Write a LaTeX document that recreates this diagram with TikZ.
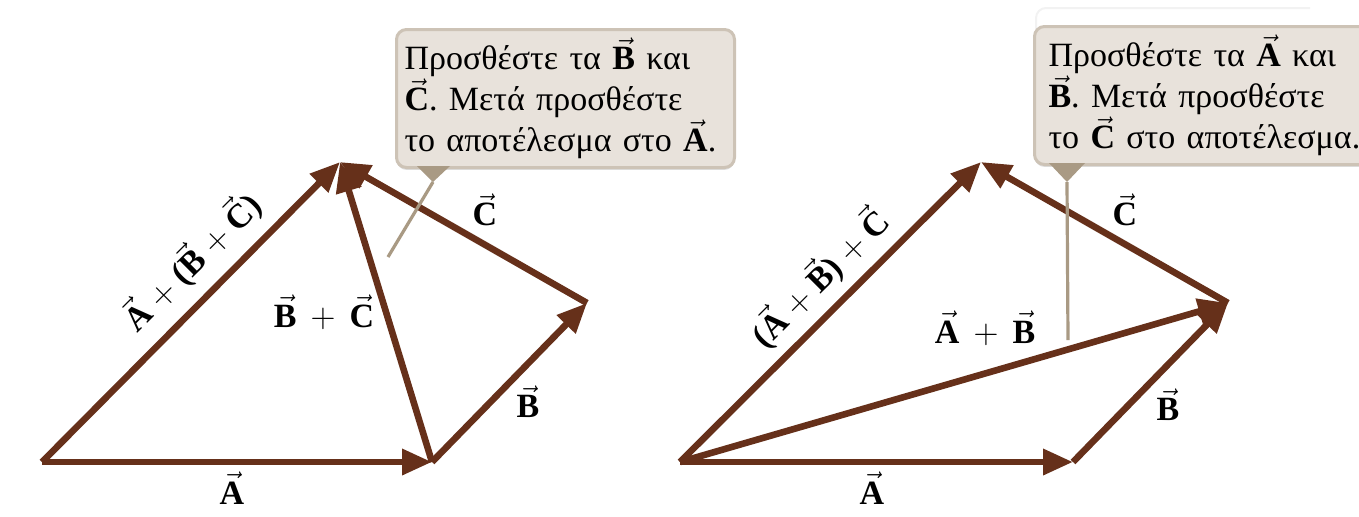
\documentclass[tikz,border=0pt]{standalone}
\usepackage{fontspec}
\setmainfont{Liberation Serif}
\usetikzlibrary{arrows.meta,shadows}
\frenchspacing

\definecolor{vecbrown}{HTML}{66301A}
\definecolor{notefill}{HTML}{E8E2DB}
\definecolor{noteedge}{HTML}{CDC3B6}
\definecolor{pointer}{HTML}{A99A84}

\newcommand{\vb}[1]{\ensuremath{\vec{\textbf{#1}}}}
\newcommand{\pl}{\ensuremath{+}}

\begin{document}
\begin{tikzpicture}[x=0.5pt,y=-0.5pt,
    vec/.style={draw=vecbrown, line width=3.3pt, -{Triangle[length=15pt,width=12.5pt]}},
    lbl/.style={font=\fontsize{17}{19}\selectfont\bfseries, inner sep=0pt},
    note/.style={draw=noteedge, fill=notefill, line width=1.5pt, rounded corners=5pt,
        anchor=north west, minimum width=168.5pt, minimum height=69pt,
        inner xsep=4pt, text width=161pt, align=left,
        drop shadow={shadow xshift=0pt, shadow yshift=-1.2pt, fill=black!22, opacity=0.6},
        font=\fontsize{17}{20.5}\selectfont},
    pointerline/.style={draw=pointer, line width=1.6pt}]
    \useasboundingbox (0,0) rectangle (1359,516);
    \clip (0,0) rectangle (1359,516);

    % left: A + (B + C)
    \coordinate (o1) at (42,462);
    \coordinate (p1) at (432,462);
    \coordinate (q1) at (587,303);
    \coordinate (r1) at (340,162);
    \draw[vec] (o1) -- (p1);
    \draw[vec] (p1) -- (q1);
    \draw[vec] (q1) -- (r1);
    \draw[vec] (p1) -- (r1);
    \draw[vec] (o1) -- (r1);
    \node[lbl] (la) at (232,488) {\vb{A}};
    \node[lbl] (lb) at (528,402) {\vb{B}};
    \node[lbl] (lc) at (485,210) {\vb{C}};
    \node[lbl] (lbc) at (324,312) {\vb{B}\, \pl\, \vb{C}};
    \node[lbl, rotate=45] (labc) at (192,262) {\vb{A} \pl{} (\vb{B} \pl{} \vb{C})};

    % right: (A + B) + C
    \coordinate (o2) at (680,462);
    \coordinate (p2) at (1073,462);
    \coordinate (q2) at (1228,303);
    \coordinate (r2) at (981,162);
    \draw[vec] (o2) -- (p2);
    \draw[vec] (p2) -- (q2);
    \draw[vec] (q2) -- (r2);
    \draw[vec] (o2) -- (q2);
    \draw[vec] (o2) -- (r2);
    \node[lbl] (ra) at (872,488) {\vb{A}};
    \node[lbl] (rb) at (1168,405) {\vb{B}};
    \node[lbl] (rc) at (1125,210) {\vb{C}};
    \node[lbl] (rab) at (985,328) {\vb{A}\, \pl\, \vb{B}};
    \node[lbl, rotate=45] (rabc) at (820,278) {(\vb{A} \pl{} \vb{B}) \pl{} \vb{C}};

    % notes
    \draw[black!5, line width=1pt, rounded corners=5pt] (1036,30) -- (1036,8) -- (1310,8);
    \node[note] (lnote) at (395,28)
        {Προσθέστε τα \vb{B} και\\ \vb{C}. Μετά προσθέστε\\ το αποτέλεσμα στο \vb{A}.};
    \node[note, minimum width=175pt] (rnote) at (1033,25)
        {Προσθέστε τα \vb{A} και\\ \vb{B}. Μετά προσθέστε\\ το \vb{C} στο αποτέλεσμα.};

    \coordinate (ltip) at (433,182);
    \coordinate (lend) at (388,257);
    \fill[pointer] (417,166) -- (450,166) -- (ltip) -- cycle;
    \draw[pointerline] (ltip) -- (lend);
    \coordinate (rtip) at (1067,182);
    \coordinate (rend) at (1068,340);
    \fill[pointer] (1049,163) -- (1085,163) -- (rtip) -- cycle;
    \draw[pointerline] (rtip) -- (rend);
\end{tikzpicture}
\end{document}
